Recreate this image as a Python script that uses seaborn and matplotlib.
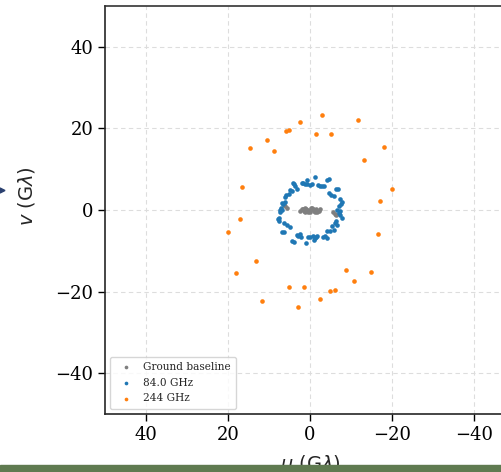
import matplotlib
matplotlib.use("Agg")
import matplotlib.pyplot as plt
import seaborn as sns
import pandas as pd
from matplotlib.patches import Rectangle, Polygon

# ---- data (u, v in G-lambda) ----
ground_u = [2.4, 2.0, 1.7, 1.3, 0.9, 0.6, 0.4, 0.1, -0.2, -0.5, -0.7, -1.0, -1.3, -1.7, -2.1, -2.4,
            1.5, 1.1, -1.5, -0.9, 6.4, 6.0, 5.7, -6.4, -6.0, -5.7]
ground_v = [-0.2, 0.2, 0.3, 0.4, 0.2, -0.1, -0.4, -0.6, 0.6, 0.5, 0.2, -0.2, -0.4, -0.4, -0.2, 0.2,
            -0.2, -0.4, 0.2, 0.0, 1.3, 1.0, 0.6, -1.3, -1.0, -0.6]

b84_u = [-1.1, 0.8, 2.0, 1.3, 0.7, 0.1, -0.5, -1.9, -2.5, -3.3, -4.2, -4.6, 4.2, 3.9, 3.7,
         4.8, 4.4, 3.2, 5.9, 6.2, -4.6, -5.2, -5.8, -6.4, -6.9, 6.8, 6.5, 6.0, -7.9, -7.5,
         -7.0, 7.3, 7.4, 6.9, 7.6, 7.7,
         -6.6, -7.3, -7.4, -7.0, -6.0, -6.4, 6.3, 5.6, 4.8, 6.8, 6.3, -6.6, -5.8, -5.0, -4.2,
         -3.7, -4.1, -3.1, 3.2, 2.5, 2.1, 4.4, 4.0, 0.9, 0.6, -0.1, -0.7, -1.3, -1.7, -0.9,
         -7.8, 7.1, -2.9, 3.0, 5.2, -5.4, 1.6, -1.4, -7.2, 7.5]
b84_v = [8.1, 7.3, 6.6, 6.4, 6.3, 6.2, 6.4, 6.2, 5.9, 6.0, 7.4, 7.6, 6.6, 6.3, 5.8,
         4.8, 4.6, 5.1, 3.6, 3.3, 4.1, 3.6, 3.4, 5.2, 5.2, 1.8, 1.4, 2.0, 2.0, 1.4,
         0.9, -0.1, -0.5, 0.1, -1.9, -2.3,
         -0.1, -0.2, -1.3, -0.8, -3.1, -2.7, -3.3, -3.7, -4.2, -5.4, -5.4, -3.7, -4.9, -5.1, -5.1,
         -6.4, -6.9, -6.6, -6.1, -6.0, -6.5, -7.6, -7.8, -8.2, -6.6, -6.6, -6.4, -6.8, -6.4, -7.4,
         -1.9, 0.5, 5.8, -6.3, 3.9, -4.0, 6.5, -6.6, 2.6, -2.8]

g244_u = [-2.9, -11.8, 2.5, 5.9, 5.0, -1.5, -5.1, 10.6, -18.1, 14.7, 8.8, -13.2, 16.7, -20.0, -17.0,
          17.0, 20.0, -16.7, 13.1, 18.0, -8.9, -14.8, -10.7, 5.1, 1.4, -5.0, -6.0, 11.8, -2.5, 2.9]
g244_v = [23.4, 22.0, 21.6, 19.3, 19.7, 18.6, 18.6, 17.2, 15.4, 15.1, 14.4, 12.2, 5.6, 5.2, 2.1,
          -2.3, -5.3, -5.8, -12.4, -15.5, -14.6, -15.3, -17.5, -18.8, -18.8, -19.9, -19.6, -22.2, -21.9, -23.7]

labels = ["Ground baseline", "84.0 GHz", "244 GHz"]
ticks = [40, 20, 0, -20, -40]

sns.set_style("ticks")
plt.rcParams["font.family"] = ["DejaVu Serif"]
plt.rcParams["axes.unicode_minus"] = True

fig = plt.figure(figsize=(5.02, 4.72), dpi=100)
W, H = 502, 472
ax = fig.add_axes([105 / W, 58 / H, 410 / W, 408 / H])

series = [(ground_u, ground_v, "#7f7f7f"), (b84_u, b84_v, "#1f77b4"), (g244_u, g244_v, "#ff7f0e")]
for (u, v, c), lab in zip(series, labels):
    df = pd.DataFrame({"u": u, "v": v})
    sns.scatterplot(data=df, x="u", y="v", color=c, s=11, linewidth=0, label=lab, ax=ax, zorder=3)

ax.set_xlim(50, -50)
ax.set_ylim(-50, 50)
ax.set_xticks(ticks)
ax.set_yticks(ticks)
ax.tick_params(labelsize=13, length=5, width=1, colors="black")
ax.grid(True, linestyle=(0, (4, 3)), color="#dddddd", linewidth=0.8)
for s in ax.spines.values():
    s.set_visible(True)
    s.set_linewidth(1.2)
ax.spines["top"].set_color("#333333")

ax.set_xlabel(r"$u$ (G$\lambda$)", fontsize=14, family="DejaVu Sans")
ax.set_ylabel(r"$v$ (G$\lambda$)", fontsize=14, family="DejaVu Sans")
ax.xaxis.set_label_coords(0.5, -0.095)
ax.yaxis.set_label_coords(-0.165, 0.535)

leg = ax.legend(loc="lower left", fontsize=7.6, frameon=True, markerscale=0.8,
                handletextpad=0.6, borderpad=0.5, labelspacing=0.55)
leg.get_frame().set_edgecolor("#cccccc")

fig.add_artist(Rectangle((0, 0), 1, 7 / H, transform=fig.transFigure,
                         color="#5f7a50", zorder=10))
fig.add_artist(Polygon([(0, (H - 188) / H), (5 / W, (H - 190.5) / H), (0, (H - 193) / H)],
                       closed=True, transform=fig.transFigure, color="#2b4170", zorder=10))

fig.savefig("out.png", dpi=100)
